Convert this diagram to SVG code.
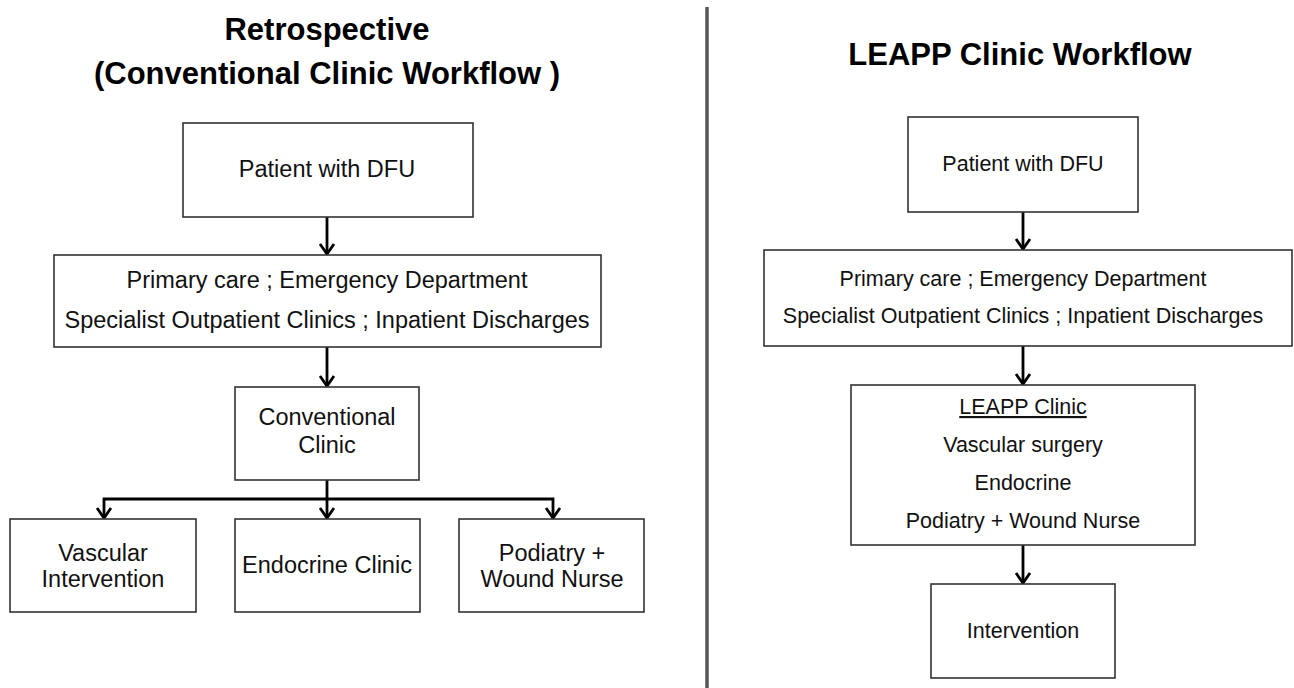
<svg xmlns="http://www.w3.org/2000/svg" width="1294" height="688" viewBox="0 0 1294 688">
  <style>
    .title { font-family: "Liberation Sans", Arial, sans-serif; font-weight: bold; font-size: 31px; fill: #000; text-anchor: middle; }
    .tl { font-family: "Liberation Sans", Arial, sans-serif; font-size: 23.5px; fill: #111; text-anchor: middle; }
    .tr { font-family: "Liberation Sans", Arial, sans-serif; font-size: 21.5px; fill: #111; text-anchor: middle; }
    .box { fill: #fff; stroke: #333; stroke-width: 1.6; }
    .conn { fill: none; stroke: #000; stroke-width: 2.8; }
    .divider { stroke: #555; stroke-width: 3.5; }
  </style>
  <defs>
    <marker id="arrow" markerUnits="userSpaceOnUse" markerWidth="24" markerHeight="24" viewBox="-14 -10 24 20" refX="0" refY="0" orient="auto-start-reverse">
      <path d="M-10,-7 L0,0 L-10,7" fill="none" stroke="#000" stroke-width="2.8" stroke-linejoin="miter" stroke-linecap="butt"/>
    </marker>
  </defs>
  <rect x="0" y="0" width="1294" height="688" fill="#fff"/>

  <g id="titles">
    <text class="title" x="327" y="40">Retrospective</text>
    <text class="title" x="327" y="84">(Conventional Clinic Workflow )</text>
    <text class="title" x="1020" y="65">LEAPP Clinic Workflow</text>
  </g>

  <line id="divider" class="divider" x1="707" y1="7" x2="707" y2="688"/>

  <g id="connectors">
    <path class="conn" d="M327,217 V254" marker-end="url(#arrow)"/>
    <path class="conn" d="M327,347 V386" marker-end="url(#arrow)"/>
    <path class="conn" d="M327,480 V518" marker-end="url(#arrow)"/>
    <path class="conn" d="M104,518 V499 H553 V518" marker-start="url(#arrow)" marker-end="url(#arrow)"/>
    <path class="conn" d="M1023,212 V249" marker-end="url(#arrow)"/>
    <path class="conn" d="M1023,346 V384" marker-end="url(#arrow)"/>
    <path class="conn" d="M1023,545 V583" marker-end="url(#arrow)"/>
  </g>

  <g id="l-patient">
    <rect class="box" x="183" y="123" width="290" height="94"/>
    <text class="tl" x="327" y="177">Patient with DFU</text>
  </g>
  <g id="l-referral">
    <rect class="box" x="54" y="255" width="547" height="92"/>
    <text class="tl" x="327" y="288">Primary care ; Emergency Department</text>
    <text class="tl" x="327" y="328">Specialist Outpatient Clinics ; Inpatient Discharges</text>
  </g>
  <g id="l-conventional">
    <rect class="box" x="235" y="387" width="184" height="93"/>
    <text class="tl" x="327" y="425">Conventional</text>
    <text class="tl" x="327" y="453">Clinic</text>
  </g>
  <g id="l-vascular">
    <rect class="box" x="10" y="519" width="186" height="93"/>
    <text class="tl" x="103" y="561">Vascular</text>
    <text class="tl" x="103" y="587">Intervention</text>
  </g>
  <g id="l-endocrine">
    <rect class="box" x="235" y="519" width="185" height="93"/>
    <text class="tl" x="327" y="573">Endocrine Clinic</text>
  </g>
  <g id="l-podiatry">
    <rect class="box" x="459" y="519" width="185" height="93"/>
    <text class="tl" x="552" y="561">Podiatry +</text>
    <text class="tl" x="552" y="587">Wound Nurse</text>
  </g>

  <g id="r-patient">
    <rect class="box" x="908" y="117" width="230" height="95"/>
    <text class="tr" x="1023" y="171">Patient with DFU</text>
  </g>
  <g id="r-referral">
    <rect class="box" x="764" y="250" width="528" height="96"/>
    <text class="tr" x="1023" y="286">Primary care ; Emergency Department</text>
    <text class="tr" x="1023" y="323">Specialist Outpatient Clinics ; Inpatient Discharges</text>
  </g>
  <g id="r-leapp">
    <rect class="box" x="851" y="385" width="344" height="160"/>
    <text class="tr" x="1023" y="414" text-decoration="underline">LEAPP Clinic</text>
    <text class="tr" x="1023" y="452">Vascular surgery</text>
    <text class="tr" x="1023" y="490">Endocrine</text>
    <text class="tr" x="1023" y="528">Podiatry + Wound Nurse</text>
  </g>
  <g id="r-intervention">
    <rect class="box" x="931" y="584" width="184" height="94"/>
    <text class="tr" x="1023" y="638">Intervention</text>
  </g>
</svg>
